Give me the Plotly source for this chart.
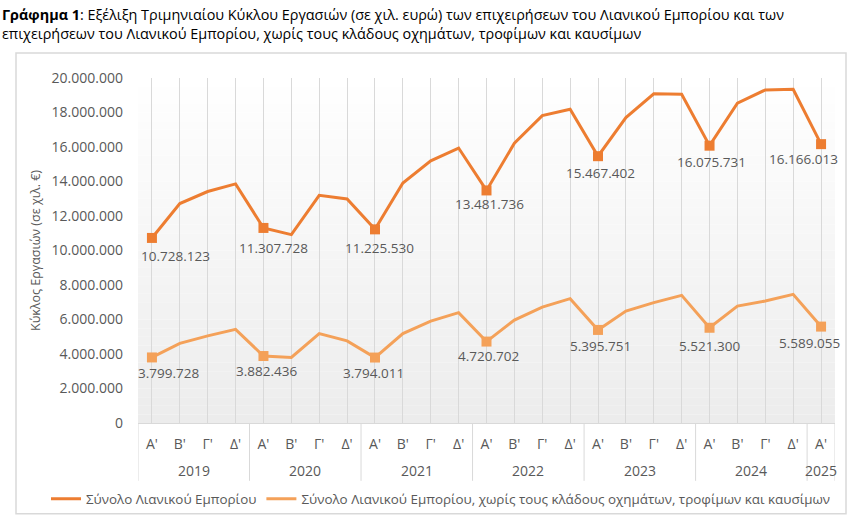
import plotly.graph_objects as go

# quarterly turnover, thousand euro
years = ["2019", "2020", "2021", "2022", "2023", "2024", "2025"]
quarter_names = ["Α'", "Β'", "Γ'", "Δ'"]

total_retail = [10728123, 12720000, 13420000, 13860000,
                11307728, 10920000, 13200000, 12990000,
                11225530, 13910000, 15200000, 15940000,
                13481736, 16220000, 17820000, 18190000,
                15467402, 17710000, 19080000, 19060000,
                16075731, 18540000, 19310000, 19350000,
                16166013]

retail_excl = [3799728, 4620000, 5050000, 5430000,
               3882436, 3800000, 5180000, 4760000,
               3794011, 5180000, 5910000, 6400000,
               4720702, 5970000, 6720000, 7210000,
               5395751, 6490000, 6980000, 7400000,
               5521300, 6780000, 7070000, 7460000,
               5589055]

name_total = "Σύνολο Λιανικού Εμπορίου"
name_excl = "Σύνολο Λιανικού Εμπορίου, χωρίς τους κλάδους οχημάτων, τροφίμων και καυσίμων"

title_1 = ("<b>Γράφημα 1</b>: Εξέλιξη Τριμηνιαίου Κύκλου Εργασιών (σε χιλ. ευρώ) "
           "των επιχειρήσεων του Λιανικού Εμπορίου και των")
title_2 = "επιχειρήσεων του Λιανικού Εμπορίου, χωρίς τους κλάδους οχημάτων, τροφίμων και καυσίμων"

# period index -> (year, quarter)
periods = []
for y in years:
    for q in quarter_names:
        if len(periods) < len(total_retail):
            periods.append((y, q))
xs = list(range(len(periods)))
q_labels = [p[1] for p in periods]

C_TOTAL = "#ED7D31"
C_EXCL = "#F4A159"
GREY_TXT = "#595959"
GRID = "#D9D9D9"
FONT = "Open Sans"

# plot area in pixels: left 138, right 835, top 78, bottom 424
PW, PH = 697, 346

# label nudges for the first-quarter data labels (px), like the manual Excel placement
dx_total = [24, 10, 5, 3, 2, 2, -18]
dy_total = [-18, -20, -19, -14, -17, -16, -15]
dx_excl = [17, 3, -1, 2, 2, 0, -12]
dy_excl = [-16, -15, -15, -14, -16, -18, -16]


def fmt(v):
    return f"{v:,}".replace(",", ".")


fig = go.Figure()

fig.add_trace(go.Scatter(x=xs, y=total_retail, mode="lines", name=name_total,
                         line=dict(color=C_TOTAL, width=3)))
fig.add_trace(go.Scatter(x=xs, y=retail_excl, mode="lines", name=name_excl,
                         line=dict(color=C_EXCL, width=3)))

first_q = [i for i in xs if q_labels[i] == "Α'"]
fig.add_trace(go.Scatter(x=first_q, y=[total_retail[i] for i in first_q], mode="markers",
                         marker=dict(symbol="square", size=10, color=C_TOTAL),
                         showlegend=False, hoverinfo="skip"))
fig.add_trace(go.Scatter(x=first_q, y=[retail_excl[i] for i in first_q], mode="markers",
                         marker=dict(symbol="square", size=10, color=C_EXCL),
                         showlegend=False, hoverinfo="skip"))

annotations = []
for k, i in enumerate(first_q):
    annotations.append(dict(x=i, y=total_retail[i], text=fmt(total_retail[i]), showarrow=False,
                            xshift=dx_total[k], yshift=dy_total[k],
                            font=dict(family=FONT, size=13.5, color=GREY_TXT)))
    annotations.append(dict(x=i, y=retail_excl[i], text=fmt(retail_excl[i]), showarrow=False,
                            xshift=dx_excl[k], yshift=dy_excl[k],
                            font=dict(family=FONT, size=13.5, color=GREY_TXT)))

# year labels under the quarter labels
for y in years:
    idx = [i for i in xs if periods[i][0] == y]
    annotations.append(dict(x=sum(idx) / len(idx), y=-48 / PH, xref="x", yref="paper",
                            text=y, showarrow=False, yanchor="middle",
                            font=dict(family=FONT, size=14, color=GREY_TXT)))

# chart title (above the chart box)
annotations.append(dict(x=-138 / PW, y=(424 - 14) / PH, xref="paper", yref="paper",
                        xanchor="left", yanchor="middle", showarrow=False, align="left",
                        text=title_1, font=dict(family=FONT, size=14.4, color="#000000")))
annotations.append(dict(x=-138 / PW, y=(424 - 33) / PH, xref="paper", yref="paper",
                        xanchor="left", yanchor="middle", showarrow=False, align="left",
                        text=title_2, font=dict(family=FONT, size=14.4, color="#000000")))

shapes = []
# soft vertical gradient of the plot area
n_bands = 40
for b in range(n_bands):
    t = (b + 0.5) / n_bands
    g = int(round(236 + (255 - 236) * t))
    shapes.append(dict(type="rect", xref="paper", yref="paper", x0=0, x1=1,
                       y0=b / n_bands, y1=(b + 1) / n_bands, layer="below",
                       line=dict(width=0), fillcolor=f"rgb({g},{g},{g})"))
# year dividers of the two-level axis
bounds = [-0.5] + [i + 0.5 for i in xs if i + 1 < len(xs) and periods[i + 1][0] != periods[i][0]] + [xs[-1] + 0.5]
for bx in bounds:
    shapes.append(dict(type="line", xref="x", yref="paper", x0=bx, x1=bx, y0=0, y1=-58 / PH,
                       line=dict(color=GRID, width=1)))
# outer chart box
shapes.append(dict(type="rect", xref="paper", yref="paper",
                   x0=(16 - 138) / PW, x1=(846 - 138) / PW,
                   y0=(424 - 515) / PH, y1=(424 - 53) / PH,
                   line=dict(color=GRID, width=1.5), layer="below"))

fig.update_layout(
    width=865, height=525,
    margin=dict(l=138, r=30, t=78, b=101),
    paper_bgcolor="white", plot_bgcolor="white",
    separators=",.",
    font=dict(family=FONT, color=GREY_TXT),
    showlegend=True,
    legend=dict(orientation="h", xref="paper", yref="paper",
                x=(46 - 138) / PW, y=(424 - 499) / PH, xanchor="left", yanchor="middle",
                font=dict(family=FONT, size=13.4, color=GREY_TXT),
                bgcolor="rgba(0,0,0,0)", traceorder="normal"),
    annotations=annotations,
    shapes=shapes,
)

fig.update_xaxes(range=[-0.5, xs[-1] + 0.5], tickmode="array", tickvals=xs, ticktext=q_labels,
                 showgrid=True, gridcolor=GRID, gridwidth=1, zeroline=False,
                 showline=True, linecolor=GRID, linewidth=1, ticks="", ticklabelstandoff=8,
                 tickfont=dict(family=FONT, size=14, color=GREY_TXT))
fig.update_yaxes(range=[0, 20000000], dtick=2000000, tickformat=",d",
                 showgrid=False, zeroline=False, showline=False, ticks="",
                 ticklabelstandoff=14,
                 tickfont=dict(family=FONT, size=14, color=GREY_TXT),
                 title=dict(text="Κύκλος Εργασιών (σε χιλ. €)", standoff=8,
                            font=dict(family=FONT, size=12.5, color=GREY_TXT)))

# the page should start at the window corner, like the reference image
fig.write_html("out.html", config={"displayModeBar": False},
               post_script="document.body.style.margin='0';")
